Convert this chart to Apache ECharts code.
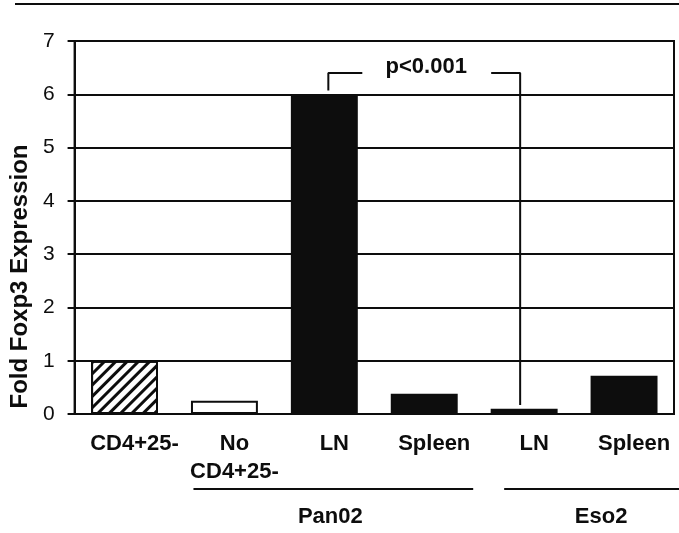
<!DOCTYPE html>
<html><head><meta charset="utf-8">
<script src="https://cdn.jsdelivr.net/npm/echarts@6/dist/echarts.min.js"></script>
<style>html,body{margin:0;padding:0;background:#fff}#c{width:679px;height:533px}</style>
</head><body><div id="c"></div>
<script>
// ---- data ----
const categories = ['CD4+25-', 'No\nCD4+25-', 'LN', 'Spleen', 'LN', 'Spleen'];
const foldExpression = [1.0, 0.25, 6.0, 0.38, 0.1, 0.72];
const yTickLabels = ['0', '1', '2', '3', '4', '5', '6', '7'];
const groupNames = ['Pan02', 'Eso2'];
const pValueText = 'p<0.001';
const comparedBars = [2, 4];
const yTitle = 'Fold Foxp3 Expression';

// ---- styles / layout ----
const FONT = 'Liberation Sans, Arial, sans-serif';
const INK = '#0d0d0d';
const barKinds = ['hatch', 'white', 'black', 'black', 'black', 'black'];
const bracketLevel = 6.4;
const legGap = 0.07;
const groupLineX = [[1.19, 3.99], [4.30, 6.10]];
const groupLabelX = [2.56, 5.27];
const groupLineY = 489;
const groupLabelY = 517;

function styleFor(kind) {
  if (kind === 'hatch') {
    return { color: '#fff', borderColor: INK, borderWidth: 2,
      decal: { symbol: 'rect', symbolSize: 1, dashArrayX: [1, 0], dashArrayY: [3, 5],
               rotation: -Math.PI / 4, color: INK } };
  }
  if (kind === 'white') return { color: '#fff', borderColor: INK, borderWidth: 2 };
  return { color: INK, borderColor: INK, borderWidth: 2 };
}

const barData = foldExpression.map((v, i) => ({ value: v, itemStyle: styleFor(barKinds[i]) }));

const leftX = comparedBars[0] + 0.54, rightX = comparedBars[1] + 0.46;
const leftLeg = [[leftX, foldExpression[comparedBars[0]] + legGap], [leftX, bracketLevel], [2.88, bracketLevel]];
const rightLeg = [[4.17, bracketLevel], [rightX, bracketLevel], [rightX, foldExpression[comparedBars[1]] + legGap]];

const chart = echarts.init(document.getElementById('c'), null, { renderer: 'canvas' });
const option = {
  animation: false,
  backgroundColor: '#fff',
  grid: { left: 74, top: 41, right: 5, bottom: 119, show: true, borderColor: INK, borderWidth: 2 },
  xAxis: [
    { type: 'category', data: categories,
      axisLine: { lineStyle: { color: INK, width: 2 } },
      axisTick: { show: false },
      axisLabel: { color: INK, fontFamily: FONT, fontWeight: 'bold', fontSize: 22, lineHeight: 28,
                   margin: 16, padding: [0, 0, 0, 20], interval: 0 } },
    { type: 'value', min: 0, max: 6, show: false }
  ],
  yAxis: {
    type: 'value', min: 0, max: 7, interval: 1,
    name: yTitle, nameLocation: 'middle', nameGap: 32,
    nameTextStyle: { color: INK, fontFamily: FONT, fontWeight: 'bold', fontSize: 24, padding: [0, 98, 0, 0] },
    axisLine: { show: true, lineStyle: { color: INK, width: 2 } },
    axisTick: { show: true, length: 7, lineStyle: { color: INK, width: 2 } },
    axisLabel: { color: INK, fontFamily: FONT, fontSize: 21, margin: 20,
                 formatter: (v) => yTickLabels[Math.round(v)] },
    splitLine: { show: true, lineStyle: { color: INK, width: 2 } }
  },
  series: [
    { type: 'bar', data: barData, barWidth: '67%', xAxisIndex: 0, z: 3 },
    { type: 'line', xAxisIndex: 1, data: leftLeg, symbol: 'none', lineStyle: { color: INK, width: 2 }, z: 4 },
    { type: 'line', xAxisIndex: 1, data: rightLeg, symbol: 'none', lineStyle: { color: INK, width: 2 }, z: 4 },
    { type: 'scatter', xAxisIndex: 1, data: [[3.52, 6.52]], symbolSize: 0, itemStyle: { opacity: 1 },
      label: { show: true, position: 'inside', formatter: pValueText, color: INK,
               fontFamily: FONT, fontWeight: 'bold', fontSize: 22 }, z: 5 }
  ]
};
chart.setOption(option);

const px = (v) => chart.convertToPixel({ xAxisIndex: 1 }, v);
const graphics = [
  { type: 'line', shape: { x1: 15, y1: 4, x2: 679, y2: 4 }, style: { stroke: INK, lineWidth: 2 } }
];
groupNames.forEach((name, i) => {
  graphics.push({ type: 'line', shape: { x1: px(groupLineX[i][0]), y1: groupLineY, x2: px(groupLineX[i][1]), y2: groupLineY },
                  style: { stroke: INK, lineWidth: 2 } });
  graphics.push({ type: 'text', x: px(groupLabelX[i]), y: groupLabelY,
                  style: { text: name, fill: INK, font: 'bold 22px ' + FONT, textAlign: 'center', textVerticalAlign: 'middle' } });
});
chart.setOption({ graphic: graphics });
</script></body></html>
